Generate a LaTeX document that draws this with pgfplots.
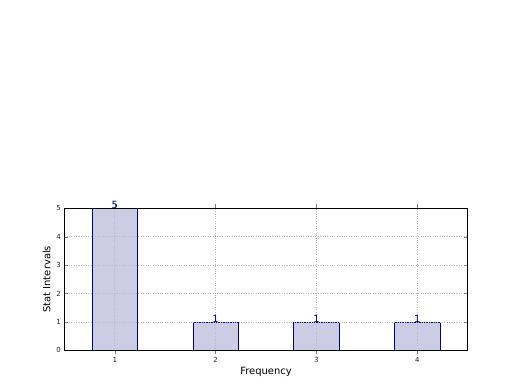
\documentclass[border=0pt]{standalone}
\usepackage{fontspec}
\setmainfont{DejaVu Sans}
\usepackage{pgfplots}
\pgfplotsset{compat=1.18}
\definecolor{barfill}{RGB}{204,204,229}
\definecolor{navy}{RGB}{0,0,128}
\begin{document}
\begin{tikzpicture}
\path[use as bounding box] (0,0) rectangle (520bp,390bp);
\begin{axis}[
  at={(64.3bp,39.7bp)}, anchor=south west,
  scale only axis, width=403.4bp, height=142bp,
  xmin=0.5, xmax=4.5, ymin=0, ymax=5,
  xtick={1,2,3,4}, ytick={0,1,2,3,4,5},
  tick align=inside, major tick length=4bp,
  tick label style={font=\fontsize{7}{8}\selectfont, text=black!85},
  /pgf/number format/assume math mode=true,
  grid=major, grid style={dotted, gray!55, line width=0.7pt},
  axis on top,
  axis line style={line width=0.7pt},
  xlabel={Frequency}, ylabel={Stat Intervals},
  label style={font=\fontsize{10}{11}\selectfont},
  xlabel style={yshift=3bp}, ylabel style={yshift=-1bp},
  ybar, bar width=0.45,
  nodes near coords,
  nodes near coords style={font=\fontsize{10}{11}\selectfont, text=navy, anchor=south, inner sep=0pt, yshift=-0.5bp},
]
\addplot[draw=navy, fill=barfill, line width=0.7pt] coordinates {(1,5) (2,1) (3,1) (4,1)};
\end{axis}
\end{tikzpicture}
\end{document}
